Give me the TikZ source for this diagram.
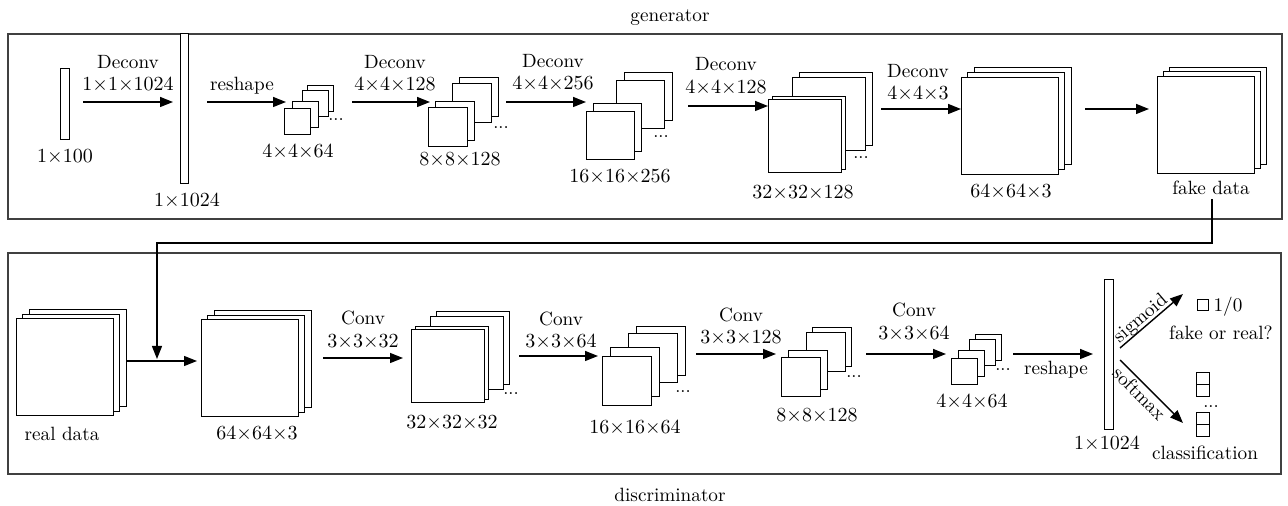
\documentclass[tikz,border=0pt]{standalone}
\usetikzlibrary{arrows.meta}
\newcommand\fsq[4]{\node[fm,minimum width=#4*0.5pt,minimum height=#4*0.5pt] (#1) at (#2,#3) {};}
\newcommand\fdots[3]{\node[dts] (#1) at (#2,#3) {...};}
\newcommand\tms{{\times}}
\begin{document}
\begin{tikzpicture}[x=0.5pt,y=-0.5pt,
  fm/.style={draw=black,fill=white,line width=0.7pt,inner sep=0pt,anchor=north west},
  lbl/.style={inner sep=0pt,text height=6.5pt,text depth=0pt,font=\fontsize{9.6pt}{11pt}\selectfont},
  dts/.style={inner sep=0pt,anchor=base,font=\small},
  arr/.style={line width=0.7pt,-{Triangle[length=6.5pt,width=5pt]}},
  frame/.style={draw=black!75,line width=0.9pt},
  bar/.style={fm}]
\useasboundingbox (0,0) rectangle (1288,506);
% ---------------- frames ----------------
\node[frame,inner sep=0pt,anchor=north west,minimum width=1274*0.5pt,minimum height=185*0.5pt] (gen) at (7,33) {};
\node[frame,inner sep=0pt,anchor=north west,minimum width=1273*0.5pt,minimum height=221*0.5pt] (dis) at (7,252) {};
\node[lbl] (genlbl) at (670,15) {generator};
\node[lbl] (dislbl) at (670,495) {discriminator};
% ---------------- generator ----------------
\node[bar,minimum width=9*0.5pt,minimum height=71*0.5pt] (gin) at (60,68) {};
\node[lbl] (ginl) at (65,156) {$1\tms100$};
\node[bar,minimum width=8*0.5pt,minimum height=150*0.5pt] (gbar) at (180,33) {};
\node[lbl] (gbarl) at (187,200) {$1\tms1024$};
% 4x4x64
\fsq{g1d}{307}{85}{26}\fsq{g1c}{302}{90}{26}\fsq{g1b}{292}{101}{26}\fsq{g1a}{284}{108}{26}
\fdots{g1dots}{336}{121}
\node[lbl] (g1l) at (298,151) {$4\tms4\tms64$};
% 8x8x128
\fsq{g2d}{459}{77}{39}\fsq{g2c}{452}{83}{39}\fsq{g2b}{435}{101}{39}\fsq{g2a}{428}{107}{39}
\fdots{g2dots}{501}{129}
\node[lbl] (g2l) at (460,159) {$8\tms8\tms128$};
% 16x16x256
\fsq{g3d}{624}{72}{48}\fsq{g3c}{616}{80}{48}\fsq{g3b}{593}{103}{48}\fsq{g3a}{586}{111}{48}
\fdots{g3dots}{661}{138}
\node[lbl] (g3l) at (620,176) {$16\tms16\tms256$};
% 32x32x128
\fsq{g4d}{799}{72}{73}\fsq{g4c}{792}{77}{73}\fsq{g4b}{772}{96}{73}\fsq{g4a}{768}{99}{73}
\fdots{g4dots}{861}{159}
\node[lbl] (g4l) at (803,192) {$32\tms32\tms128$};
% 64x64x3
\fsq{g5c}{974}{67}{97}\fsq{g5b}{967}{72}{97}\fsq{g5a}{961}{77}{97}
\node[lbl] (g5l) at (1011,191) {$64\tms64\tms3$};
% fake data
\fsq{g6c}{1169}{67}{97}\fsq{g6b}{1163}{71}{97}\fsq{g6a}{1157}{76}{97}
\node[lbl] (g6l) at (1211,188) {fake data};
% generator arrows
\coordinate (a1s) at (83,102);  \coordinate (a1e) at (173,102);
\coordinate (a2s) at (207,102); \coordinate (a2e) at (286,102);
\coordinate (a3s) at (352,102); \coordinate (a3e) at (430,102);
\coordinate (a4s) at (506,102); \coordinate (a4e) at (586,102);
\coordinate (a5s) at (688,106); \coordinate (a5e) at (768,106);
\coordinate (a6s) at (881,109); \coordinate (a6e) at (961,109);
\coordinate (a7s) at (1085,109); \coordinate (a7e) at (1149,109);
\draw[arr] (a1s) -- (a1e);
\draw[arr] (a2s) -- (a2e);
\draw[arr] (a3s) -- (a3e);
\draw[arr] (a4s) -- (a4e);
\draw[arr] (a5s) -- (a5e);
\draw[arr] (a6s) -- (a6e);
\draw[arr] (a7s) -- (a7e);
\node[lbl] (t1a) at (128,62) {Deconv}; \node[lbl] (t1b) at (128,84) {$1\tms1\tms1024$};
\node[lbl] (t2) at (242,84) {reshape};
\node[lbl] (t3a) at (395,62) {Deconv}; \node[lbl] (t3b) at (395,84) {$4\tms4\tms128$};
\node[lbl] (t4a) at (553,61) {Deconv}; \node[lbl] (t4b) at (553,83) {$4\tms4\tms256$};
\node[lbl] (t5a) at (726,64) {Deconv}; \node[lbl] (t5b) at (726,87) {$4\tms4\tms128$};
\node[lbl] (t6a) at (918,71) {Deconv}; \node[lbl] (t6b) at (918,93) {$4\tms4\tms3$};
% ---------------- discriminator ----------------
% real data
\fsq{d0c}{29}{309}{97}\fsq{d0b}{22}{314}{97}\fsq{d0a}{16}{318}{97}
\node[lbl] (d0l) at (62,434) {real data};
% 64x64x3
\fsq{d1c}{214}{310}{97}\fsq{d1b}{207}{315}{97}\fsq{d1a}{201}{319}{97}
\node[lbl] (d1l) at (257,433) {$64\tms64\tms3$};
% 32x32x32
\fsq{d2d}{436}{311}{73}\fsq{d2c}{430}{316}{73}\fsq{d2b}{415}{326}{73}\fsq{d2a}{411}{329}{73}
\fdots{d2dots}{511}{395}
\node[lbl] (d2l) at (452,422) {$32\tms32\tms32$};
% 16x16x64
\fsq{d3d}{636}{326}{49}\fsq{d3c}{628}{333}{49}\fsq{d3b}{610}{347}{49}\fsq{d3a}{602}{356}{49}
\fdots{d3dots}{683}{393}
\node[lbl] (d3l) at (635,427) {$16\tms16\tms64$};
% 8x8x128
\fsq{d4d}{812}{327}{39}\fsq{d4c}{806}{332}{39}\fsq{d4b}{788}{350}{39}\fsq{d4a}{781}{357}{39}
\fdots{d4dots}{854}{378}
\node[lbl] (d4l) at (817,415) {$8\tms8\tms128$};
% 4x4x64
\fsq{d5d}{975}{334}{26}\fsq{d5c}{969}{339}{26}\fsq{d5b}{958}{350}{26}\fsq{d5a}{951}{358}{26}
\fdots{d5dots}{1003}{371}
\node[lbl] (d5l) at (972,401) {$4\tms4\tms64$};
% bar
\node[bar,minimum width=9*0.5pt,minimum height=150*0.5pt] (dbar) at (1104,279) {};
\node[lbl] (dbarl) at (1107,443) {$1\tms1024$};
% outputs
\node[fm,minimum width=11*0.5pt,minimum height=11*0.5pt] (osq) at (1197,299) {};
\node[lbl] (o10) at (1228,305) {1/0};
\node[lbl] (ofr) at (1221,333) {fake or real?};
\node[fm,minimum width=13*0.5pt,minimum height=12*0.5pt] (c1a) at (1196,372) {};
\node[fm,minimum width=13*0.5pt,minimum height=12*0.5pt] (c1b) at (1196,384) {};
\node[fm,minimum width=13*0.5pt,minimum height=12*0.5pt] (c2a) at (1196,412) {};
\node[fm,minimum width=13*0.5pt,minimum height=12*0.5pt] (c2b) at (1196,424) {};
\fdots{cdots}{1211}{408}
\node[lbl] (ocl) at (1205,453) {classification};
% discriminator arrows
\coordinate (b0s) at (126,361); \coordinate (b0e) at (197,361);
\coordinate (b1s) at (323,358); \coordinate (b1e) at (403,358);
\coordinate (b2s) at (519,356); \coordinate (b2e) at (598,356);
\coordinate (b3s) at (696,354); \coordinate (b3e) at (776,354);
\coordinate (b4s) at (866,354); \coordinate (b4e) at (946,354);
\coordinate (b5s) at (1013,354); \coordinate (b5e) at (1093,354);
\coordinate (ss) at (1120,348); \coordinate (se) at (1183,294);
\coordinate (fs) at (1120,360); \coordinate (fe) at (1183,423);
\draw[arr] (b0s) -- (b0e);
\draw[arr] (b1s) -- (b1e);
\draw[arr] (b2s) -- (b2e);
\draw[arr] (b3s) -- (b3e);
\draw[arr] (b4s) -- (b4e);
\draw[arr] (b5s) -- (b5e);
\draw[arr] (ss) -- node[lbl,sloped,above,pos=0.42,inner sep=1.5pt] (sig) {sigmoid} (se);
\draw[arr] (fs) -- node[lbl,sloped,below,pos=0.42,inner sep=1.5pt] (sof) {softmax} (fe);
\node[lbl] (u1a) at (363,318) {Conv}; \node[lbl] (u1b) at (363,341) {$3\tms3\tms32$};
\node[lbl] (u2a) at (561,319) {Conv}; \node[lbl] (u2b) at (561,341) {$3\tms3\tms64$};
\node[lbl] (u3a) at (741,315) {Conv}; \node[lbl] (u3b) at (741,337) {$3\tms3\tms128$};
\node[lbl] (u4a) at (914,310) {Conv}; \node[lbl] (u4b) at (914,333) {$3\tms3\tms64$};
\node[lbl] (u5) at (1056,368) {reshape};
% feedback connector
\coordinate (fk1) at (1212,199);
\coordinate (fk2) at (157,359);
\draw[arr] (fk1) -- (fk1 |- 0,243) -- (fk2 |- 0,243) -- (fk2);
\end{tikzpicture}
\end{document}
